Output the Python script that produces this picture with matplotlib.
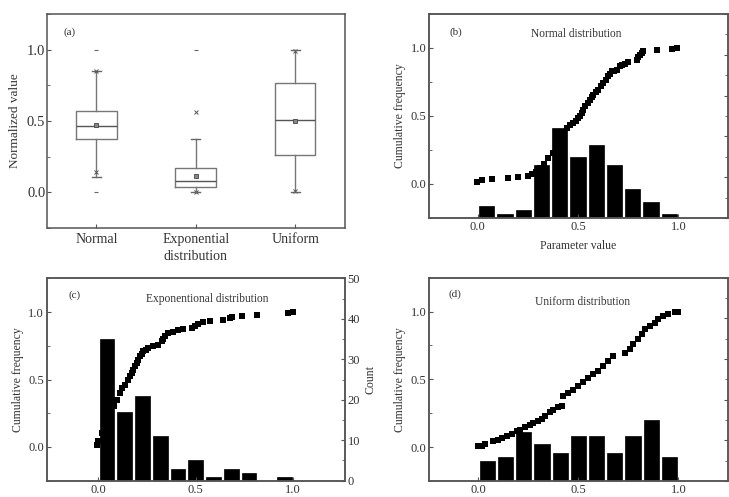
import matplotlib
matplotlib.use("Agg")
import matplotlib.pyplot as plt
from matplotlib.ticker import MultipleLocator

plt.rcParams['font.family'] = ['Liberation Serif', 'DejaVu Serif']
TXT = '#333333'
EDGE = '#555555'
BOXC = '#777777'

# ---- panel (a): box chart of the three normalized samples
box_names = ['Normal', 'Exponential\ndistribution', 'Uniform']
box_q1 = [0.372, 0.035, 0.264]
box_med = [0.468, 0.083, 0.506]
box_q3 = [0.569, 0.170, 0.765]
box_lo = [0.111, 0.000, 0.005]
box_hi = [0.854, 0.372, 1.000]
box_mean = [0.470, 0.118, 0.503]
pct1 = [0.146, 0.000, 0.010]
pct99 = [0.850, 0.565, 0.990]
box_min = [0.0, 0.0, 0.0]
box_max = [1.0, 1.0, 1.0]

# ---- histograms (11 bins over 0..1) and cumulative frequency points
bin_centers = [0.045, 0.136, 0.227, 0.318, 0.409, 0.500, 0.591, 0.682, 0.773, 0.864, 0.955]
normal_counts = [3, 1, 2, 13, 22, 15, 18, 13, 7, 4, 1]
exp_counts = [35, 17, 21, 11, 3, 5, 1, 3, 2, 0, 1]
unif_counts = [5, 6, 12, 9, 7, 11, 11, 7, 11, 15, 6]

normal_cx = [-0.005, 0.02, 0.07, 0.152, 0.202, 0.252, 0.269, 0.29, 0.31, 0.33, 0.352, 0.377,
             0.39, 0.41, 0.43, 0.443, 0.46, 0.476, 0.49, 0.501, 0.51, 0.518, 0.527, 0.535,
             0.548, 0.56, 0.568, 0.576, 0.588, 0.601, 0.613, 0.626, 0.638, 0.651, 0.66, 0.668,
             0.68, 0.693, 0.709, 0.72, 0.734, 0.75, 0.792, 0.80, 0.809, 0.817, 0.825, 0.892,
             0.967, 0.995]
normal_cy = [0.017, 0.03, 0.035, 0.042, 0.049, 0.059, 0.074, 0.09, 0.12, 0.15, 0.19, 0.226,
             0.27, 0.32, 0.37, 0.41, 0.43, 0.447, 0.465, 0.484, 0.50, 0.521, 0.545, 0.57,
             0.595, 0.619, 0.638, 0.656, 0.675, 0.693, 0.718, 0.742, 0.766, 0.791, 0.81, 0.828,
             0.834, 0.84, 0.864, 0.874, 0.884, 0.894, 0.914, 0.93, 0.95, 0.962, 0.975, 0.982,
             0.993, 1.0]

exp_cx = [-0.008, 0.0, 0.02, 0.04, 0.06, 0.08, 0.094, 0.111, 0.12, 0.137, 0.154, 0.163,
          0.171, 0.179, 0.188, 0.197, 0.205, 0.214, 0.222, 0.231, 0.244, 0.256, 0.282, 0.308,
          0.325, 0.334, 0.342, 0.359, 0.385, 0.41, 0.436, 0.479, 0.496, 0.513, 0.538, 0.573,
          0.641, 0.675, 0.684, 0.735, 0.812, 0.974, 1.0]
exp_cy = [0.017, 0.042, 0.10, 0.17, 0.24, 0.30, 0.35, 0.40, 0.437, 0.461, 0.499, 0.523,
          0.548, 0.573, 0.598, 0.622, 0.646, 0.671, 0.69, 0.708, 0.72, 0.733, 0.745, 0.758,
          0.782, 0.80, 0.819, 0.844, 0.852, 0.864, 0.874, 0.881, 0.899, 0.913, 0.923, 0.93,
          0.943, 0.956, 0.963, 0.973, 0.98, 0.993, 1.0]

unif_cx = [0.0, 0.017, 0.034, 0.075, 0.1, 0.117, 0.142, 0.167, 0.192, 0.209, 0.234, 0.259,
           0.275, 0.3, 0.317, 0.334, 0.359, 0.375, 0.4, 0.417, 0.425, 0.45, 0.475, 0.5,
           0.525, 0.55, 0.575, 0.6, 0.625, 0.65, 0.675, 0.734, 0.759, 0.775, 0.8, 0.817,
           0.834, 0.859, 0.884, 0.9, 0.925, 0.95, 0.984, 1.0]
unif_cy = [0.005, 0.01, 0.024, 0.042, 0.054, 0.067, 0.079, 0.096, 0.116, 0.128, 0.148, 0.165,
           0.178, 0.19, 0.207, 0.227, 0.256, 0.276, 0.293, 0.306, 0.375, 0.40, 0.424, 0.454,
           0.479, 0.511, 0.536, 0.56, 0.597, 0.634, 0.676, 0.696, 0.721, 0.758, 0.795, 0.832,
           0.869, 0.893, 0.919, 0.943, 0.967, 0.98, 0.997, 1.0]


def style_spines(ax):
    for s in ax.spines.values():
        s.set_color(EDGE)
        s.set_linewidth(1.1)


fig = plt.figure(figsize=(7.29, 4.97), dpi=100)

# ---------------- (a)
ax = fig.add_axes([0.064, 0.5412, 0.409, 0.4306])
stats = []
for i in range(3):
    stats.append(dict(med=box_med[i], q1=box_q1[i], q3=box_q3[i], whislo=box_lo[i],
                      whishi=box_hi[i], mean=box_mean[i], fliers=[]))
ax.bxp(stats, positions=[1, 2, 3], widths=0.41, showmeans=True, patch_artist=False,
       boxprops=dict(color=BOXC, lw=1.0), medianprops=dict(color='#555555', lw=1.0),
       whiskerprops=dict(color=BOXC, lw=1.0), capprops=dict(color='#666666', lw=1.0),
       capwidths=0.09,
       meanprops=dict(marker='s', markersize=2.8, markerfacecolor='#888888',
                      markeredgecolor='#444444', markeredgewidth=0.6))
ax.plot([1, 2, 3], pct1, 'x', color='#555555', ms=3.2, mew=0.7)
ax.plot([1, 2, 3], pct99, 'x', color='#555555', ms=3.2, mew=0.7)
ax.plot([1, 2, 3], box_min, '_', color='#666666', ms=3, mew=0.8)
ax.plot([1, 2, 3], box_max, '_', color='#666666', ms=3, mew=0.8)
ax.set_xlim(0.5, 3.5)
ax.set_ylim(-0.25, 1.25)
ax.set_xticks([1, 2, 3])
ax.set_xticklabels(box_names)
for lbl in ax.get_xticklabels():
    lbl.set_linespacing(1.4)
ax.set_yticks([0.0, 0.5, 1.0])
ax.set_yticklabels(['0.0', '0.5', '1.0'])
ax.yaxis.set_minor_locator(MultipleLocator(0.25))
ax.tick_params(axis='both', which='both', direction='in', color=EDGE, labelcolor=TXT)
ax.tick_params(axis='y', which='major', length=3, labelsize=10.5, pad=1)
ax.tick_params(axis='y', which='minor', length=2)
ax.tick_params(axis='x', length=3, labelsize=10, pad=3.5)
ax.set_ylabel('Normalized value', fontsize=9.5, color=TXT, labelpad=4)
ax.text(0.055, 0.916, '(a)', transform=ax.transAxes, fontsize=8, color=TXT, va='center')
style_spines(ax)


def hist_panel(rect, counts, cx, cy, title, tag, xlim, title_y, show_counts, xlabel=None):
    ax = fig.add_axes(rect)
    tw = ax.twinx()
    tw.bar(bin_centers, counts, width=0.076, color='black', edgecolor='black', lw=0.5)
    tw.set_ylim(0, 50)
    tw.yaxis.set_major_locator(MultipleLocator(10))
    tw.yaxis.set_minor_locator(MultipleLocator(5))
    tw.tick_params(axis='y', which='both', direction='in', color=EDGE, labelcolor=TXT,
                   labelsize=9, pad=2, labelright=show_counts)
    tw.tick_params(axis='y', which='major', length=3)
    tw.tick_params(axis='y', which='minor', length=2)
    if show_counts:
        tw.set_ylabel('Count', fontsize=8.5, color=TXT, labelpad=3)
    ax.set_zorder(tw.get_zorder() + 1)
    ax.patch.set_visible(False)
    ax.plot(cx, cy, 's', color='black', ms=3.8, mew=0)
    ax.set_xlim(*xlim)
    ax.set_ylim(-0.25, 1.25)
    ax.set_xticks([0.0, 0.5, 1.0])
    ax.set_xticklabels(['0.0', '0.5', '1.0'])
    ax.set_yticks([0.0, 0.5, 1.0])
    ax.set_yticklabels(['0.0', '0.5', '1.0'])
    ax.yaxis.set_minor_locator(MultipleLocator(0.25))
    ax.tick_params(axis='both', which='both', direction='in', color=EDGE, labelcolor=TXT,
                   labelsize=9)
    ax.tick_params(axis='y', which='major', length=3, pad=2)
    ax.tick_params(axis='y', which='minor', length=2)
    ax.tick_params(axis='x', length=3, pad=2.5)
    ax.set_ylabel('Cumulative frequency', fontsize=8.5, color=TXT, labelpad=3)
    if xlabel:
        ax.set_xlabel(xlabel, fontsize=8.5, color=TXT, labelpad=5)
    ax.text(tag[1], tag[2], tag[0], transform=ax.transAxes, fontsize=8, color=TXT, va='center')
    ax.text(title[1], title_y, title[0], transform=ax.transAxes, fontsize=8.3, color=TXT,
            ha='center', va='center')
    style_spines(ax)
    style_spines(tw)
    return ax


hist_panel([0.5885, 0.5614, 0.4097, 0.4105], normal_counts, normal_cx, normal_cy,
           ('Normal distribution', 0.494), ('(b)', 0.07, 0.913), (-0.243, 1.246), 0.90,
           False, xlabel='Parameter value')
hist_panel([0.064, 0.0328, 0.409, 0.4072], exp_counts, exp_cx, exp_cy,
           ('Exponentional distribution', 0.537), ('(c)', 0.072, 0.917), (-0.265, 1.265), 0.896,
           True)
hist_panel([0.5885, 0.0322, 0.4097, 0.409], unif_counts, unif_cx, unif_cy,
           ('Uniform distribution', 0.5127), ('(d)', 0.065, 0.918), (-0.247, 1.247), 0.882,
           False)

fig.savefig('out.png', dpi=100)
